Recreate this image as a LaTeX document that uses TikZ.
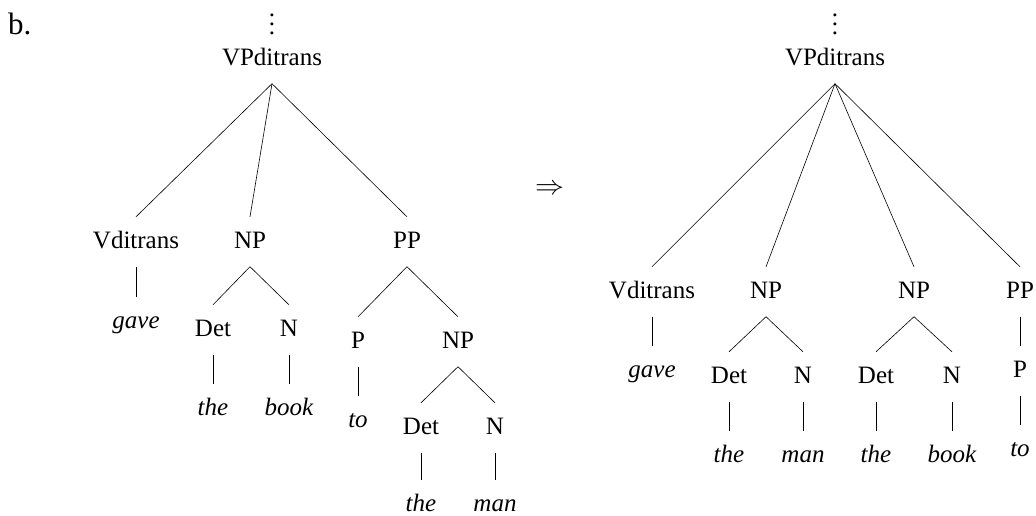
\documentclass[tikz,border=0pt]{standalone}
\usepackage{fontspec}
\setmainfont{Liberation Serif}
\begin{document}
\begin{tikzpicture}[x=1pt,y=-1pt,
  lbl/.style={anchor=base,inner sep=5pt,text height=26pt,text depth=13.5pt,font=\fontsize{25}{30}\selectfont},
  rootlbl/.style={lbl,text height=18pt},
  wrd/.style={lbl,text depth=0pt,font=\fontsize{25}{30}\selectfont\itshape},
  dotsnode/.style={anchor=base,inner sep=0pt,font=\fontsize{25}{30}\selectfont},
  edge/.style={draw,line width=0.6pt}]
\useasboundingbox (0,0) rectangle (1036,515);
\newcommand{\mydots}{\vbox{\baselineskip9pt\lineskiplimit-100pt\hbox{.}\hbox{.}\hbox{.}}}
% label
\node[anchor=base west,inner sep=0pt,font=\fontsize{31}{36}\selectfont] (lab) at (8,34) {b.};
% ---------- left tree
\node[dotsnode] (ldots) at (272,34.5) {\mydots};
\node[rootlbl] (lroot) at (272,65) {VPditrans};
\node[lbl] (lv) at (136,248) {Vditrans};
\node[lbl] (lnp) at (250,248) {NP};
\node[lbl] (lpp) at (407,248) {PP};
\node[wrd] (lgave) at (136,328) {gave};
\node[lbl] (ldet1) at (213,336) {Det};
\node[lbl] (ln1) at (289,336) {N};
\node[wrd] (lthe1) at (213,415) {the};
\node[wrd] (lbook) at (289,415) {book};
\node[lbl] (lp) at (358,348) {P};
\node[lbl] (lnp2) at (458,348) {NP};
\node[wrd] (lto) at (358,427) {to};
\node[lbl] (ldet2) at (421,434) {Det};
\node[lbl] (ln2) at (495,434) {N};
\node[wrd] (lthe2) at (421,511) {the};
\node[wrd] (lman) at (495,511) {man};
\foreach \a/\b in {lroot/lv,lroot/lnp,lroot/lpp,lv/lgave,lnp/ldet1,lnp/ln1,ldet1/lthe1,ln1/lbook,
  lpp/lp,lpp/lnp2,lp/lto,lnp2/ldet2,lnp2/ln2,ldet2/lthe2,ln2/lman}
  \draw[edge] (\a.south) -- (\b.north);
% arrow
\node[inner sep=0pt] (arr) at (549.5,189.5) {\scalebox{2.9}[2.7]{$\Rightarrow$}};
% ---------- right tree
\node[dotsnode] (rdots) at (835,34.5) {\mydots};
\node[rootlbl] (rroot) at (835,65) {VPditrans};
\node[lbl] (rv) at (652,298) {Vditrans};
\node[lbl] (rnp1) at (766,298) {NP};
\node[lbl] (rnp2) at (914,298) {NP};
\node[lbl] (rpp) at (1020,298) {PP};
\node[wrd] (rgave) at (652,377) {gave};
\node[lbl] (rdet1) at (729,383) {Det};
\node[lbl] (rn1) at (803,383) {N};
\node[lbl] (rdet2) at (876,383) {Det};
\node[lbl] (rn2) at (952,383) {N};
\node[lbl] (rp) at (1020,377) {P};
\node[wrd] (rthe1) at (729,462) {the};
\node[wrd] (rman) at (803,462) {man};
\node[wrd] (rthe2) at (876,462) {the};
\node[wrd] (rbook) at (952,462) {book};
\node[wrd] (rto) at (1020,456) {to};
\foreach \a/\b in {rroot/rv,rroot/rnp1,rroot/rnp2,rroot/rpp,rv/rgave,rnp1/rdet1,rnp1/rn1,rnp2/rdet2,rnp2/rn2,
  rpp/rp,rdet1/rthe1,rn1/rman,rdet2/rthe2,rn2/rbook,rp/rto}
  \draw[edge] (\a.south) -- (\b.north);
\end{tikzpicture}
\end{document}
